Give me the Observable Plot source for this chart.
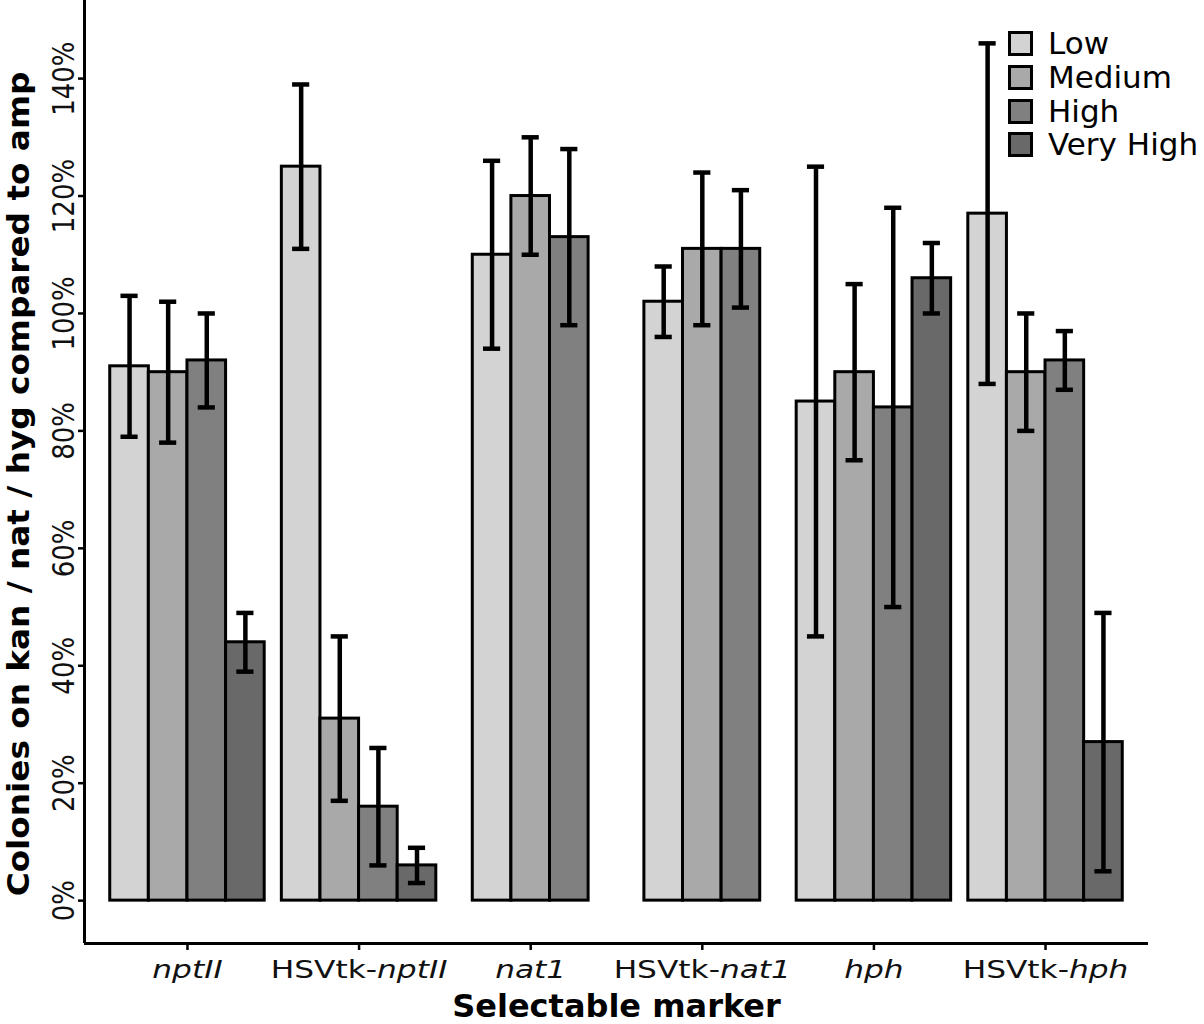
<!DOCTYPE html>
<html>
<head>
<meta charset="utf-8">
<script src="https://cdn.jsdelivr.net/npm/d3@7"></script>
<script src="https://cdn.jsdelivr.net/npm/@observablehq/plot@0.6"></script>
<style>
  html, body { margin: 0; padding: 0; background: white; }
  #wrap { position: relative; width: 1204px; height: 1024px; font-family: "DejaVu Sans", sans-serif; }
  #legend { position: absolute; left: 1008px; top: 27px; }
  .lrow { display: flex; align-items: center; height: 33.7px; }
  .lsw { width: 25px; height: 25px; box-sizing: border-box; border: 3px solid black; }
  .ltx { margin-left: 15px; font-size: 31px; color: black; line-height: 1; }
</style>
</head>
<body>
<div id="wrap"></div>
<script>
// ---- data ----
const groups = ["nptII", "HSVtk-nptII", "nat1", "HSVtk-nat1", "hph", "HSVtk-hph"];
const levels = ["Low", "Medium", "High", "Very High"];
const yTicks = [0, 20, 40, 60, 80, 100, 120, 140];

const barMarker = [
  "nptII", "nptII", "nptII", "nptII",
  "HSVtk-nptII", "HSVtk-nptII", "HSVtk-nptII", "HSVtk-nptII",
  "nat1", "nat1", "nat1",
  "HSVtk-nat1", "HSVtk-nat1", "HSVtk-nat1",
  "hph", "hph", "hph", "hph",
  "HSVtk-hph", "HSVtk-hph", "HSVtk-hph", "HSVtk-hph"
];
const barLevel = [
  "Low", "Medium", "High", "Very High",
  "Low", "Medium", "High", "Very High",
  "Low", "Medium", "High",
  "Low", "Medium", "High",
  "Low", "Medium", "High", "Very High",
  "Low", "Medium", "High", "Very High"
];
const barMean  = [91, 90, 92, 44,  125, 31, 16, 6,  110, 120, 113,  102, 111, 111,  85, 90, 84, 106,  117, 90, 92, 27];
const barLower = [79, 78, 84, 39,  111, 17, 6, 3,   94, 110, 98,    96, 98, 101,    45, 75, 50, 100,  88, 80, 87, 5];
const barUpper = [103, 102, 100, 49, 139, 45, 26, 9, 126, 130, 128,  108, 124, 121,  125, 105, 118, 112, 146, 100, 97, 49];

// ---- styles ----
const fills = ["#d3d3d3", "#a9a9a9", "#808080", "#696969"];
const slot = 0.225;      // dodge width of one bar (fraction of group step)
const capHalf = 0.05;    // half width of error bar caps
const yDomain = [-7.3, 153.3];
const xDomain = [-0.6, groups.length - 0.4];
const yTitle = "Colonies on kan / nat / hyg compared to amp";
const xTitle = "Selectable marker";

// ---- table ----
const bars = barMean.map((m, i) => {
  const g = groups.indexOf(barMarker[i]);
  const members = barMarker.filter(d => d === barMarker[i]).length;
  const k = barMarker.slice(0, i).filter(d => d === barMarker[i]).length;
  const xc = g + (k - (members - 1) / 2) * slot;
  return {marker: barMarker[i], level: barLevel[i], mean: m, lo: barLower[i], hi: barUpper[i], xc};
});

const chart = Plot.plot({
  width: 1204,
  height: 1024,
  marginLeft: 84,
  marginRight: 56,
  marginTop: 0,
  marginBottom: 81,
  x: {domain: xDomain},
  y: {domain: yDomain},
  color: {domain: levels, range: fills},
  style: {fontFamily: "DejaVu Sans", background: "white", color: "black", overflow: "visible"},
  marks: [
    Plot.rect(bars, {x1: d => d.xc - slot / 2, x2: d => d.xc + slot / 2, y1: () => 0, y2: "mean", fill: "level", stroke: "black", strokeWidth: 3}),
    Plot.ruleX(bars, {x: "xc", y1: "lo", y2: "hi", stroke: "black", strokeWidth: 4.5}),
    Plot.ruleY(bars, {y: "hi", x1: d => d.xc - capHalf, x2: d => d.xc + capHalf, stroke: "black", strokeWidth: 4.5}),
    Plot.ruleY(bars, {y: "lo", x1: d => d.xc - capHalf, x2: d => d.xc + capHalf, stroke: "black", strokeWidth: 4.5}),
    // axis lines
    Plot.ruleX([xDomain[0]], {stroke: "black", strokeWidth: 3}),
    Plot.ruleY([yDomain[0]], {stroke: "black", strokeWidth: 3}),
    // ticks
    Plot.axisY(yTicks, {tickSize: 6, tickFormat: () => "", stroke: "black", strokeWidth: 2.5, label: null}),
    Plot.axisX(d3.range(groups.length), {tickSize: 7, tickFormat: () => "", stroke: "black", strokeWidth: 2.5, label: null}),
    // y tick labels
    Plot.text(yTicks, {y: d => d, text: d => d + "%", frameAnchor: "left", dx: -11, rotate: -90, textAnchor: "middle", lineAnchor: "bottom", fontSize: 26, fill: "#111"}),
    // x tick labels
    Plot.text(groups, {x: (d, i) => i, text: d => d, frameAnchor: "bottom", dy: 34, lineAnchor: "bottom", textAnchor: "middle", fontSize: 25, fill: "#111"}),
    // axis titles
    Plot.text([yTitle], {frameAnchor: "left", dx: -56, dy: 12, rotate: -90, textAnchor: "middle", lineAnchor: "bottom", fontSize: 30, fontWeight: "bold", fill: "black"}),
    Plot.text([xTitle], {frameAnchor: "bottom", dy: 73, lineAnchor: "bottom", textAnchor: "middle", fontSize: 32, fontWeight: "bold", fill: "black"})
  ]
});

// helper: append a scale to a text element's transform (keeping its position)
function stretch(el, sx, sy) {
  const tr = el.getAttribute("transform") || "";
  const x = +(el.getAttribute("x") || 0), y = +(el.getAttribute("y") || 0);
  el.removeAttribute("x");
  el.removeAttribute("y");
  el.setAttribute("transform", `${tr} translate(${x},${y}) scale(${sx},${sy})`);
}

d3.select(chart).selectAll("text").each(function() {
  const txt = this.textContent;
  if (groups.includes(txt)) {
    const t = d3.select(this);
    t.text(null);
    if (txt.startsWith("HSVtk-")) {
      t.append("tspan").text("HSVtk-");
      t.append("tspan").attr("font-style", "italic").text(txt.slice(6));
    } else {
      t.append("tspan").attr("font-style", "italic").text(txt);
    }
    stretch(this, 1.25, 1);
  } else if (/^\d+%$/.test(txt)) {
    stretch(this, 1, 1.16);
  } else if (txt === yTitle) {
    stretch(this, 1.09, 1);
  }
});

const wrap = document.getElementById("wrap");
wrap.appendChild(chart);

// legend
const legend = d3.select(wrap).append("div").attr("id", "legend");
levels.forEach((lv, i) => {
  const row = legend.append("div").attr("class", "lrow");
  row.append("div").attr("class", "lsw").style("background", fills[i]);
  row.append("div").attr("class", "ltx").text(lv);
});
</script>
</body>
</html>
